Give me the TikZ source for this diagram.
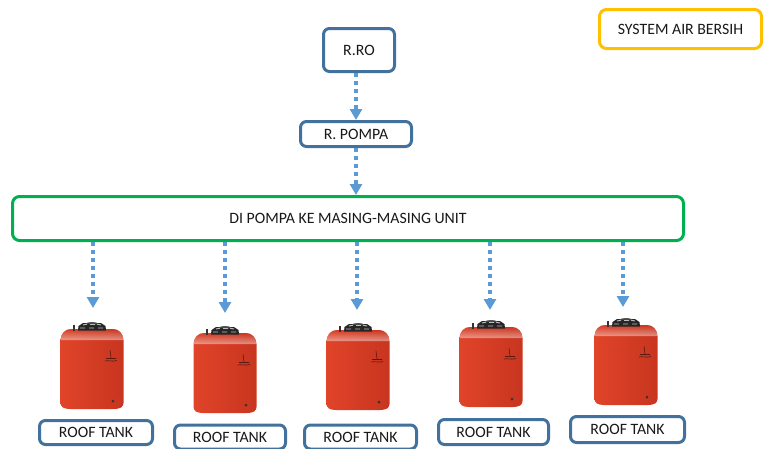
\documentclass[tikz,border=0pt]{standalone}
\usepackage{fontspec}
\setmainfont{Carlito}
\usetikzlibrary{arrows.meta}

\definecolor{boxblue}{HTML}{41719C}
\definecolor{boxgreen}{HTML}{00B050}
\definecolor{boxgold}{HTML}{FFC000}
\definecolor{flowblue}{HTML}{5B9BD5}
\definecolor{tankleft}{HTML}{E04429}
\definecolor{tankmid}{HTML}{F05D40}
\definecolor{tankright}{HTML}{C8351F}
\definecolor{logoink}{HTML}{5A1A10}

\tikzset{
  label/.style={font=\fontsize{15.8}{19}\selectfont, text=black!90, inner sep=0pt},
  bluebox/.style={label, draw=boxblue, line width=3pt, rounded corners=6pt, fill=white},
  greenbox/.style={label, draw=boxgreen, line width=3pt, rounded corners=7pt, fill=white},
  goldbox/.style={label, draw=boxgold, line width=3pt, rounded corners=7pt, fill=white},
  flow/.style={draw=flowblue, line width=3.2pt, dash pattern=on 3.5pt off 4.5pt,
    -{Triangle[width=12pt,length=11pt]}},
  tank/.pic={
    % body with rounded shoulder
    \shade[left color=tankleft, middle color=tankmid, right color=tankright]
      (-31.5,18) .. controls (-31.5,12) and (-27,7) .. (-21,7) -- (21,7)
      .. controls (27,7) and (31.5,12) .. (31.5,18) -- (31.5,81)
      .. controls (31.5,85) and (28,87) .. (22,87) -- (-22,87)
      .. controls (-28,87) and (-31.5,85) .. (-31.5,81) -- cycle;
    % shoulder shadow
    \shade[top color=tankright, bottom color=tankright!0, opacity=0.45]
      (-31.5,18) .. controls (-31.5,12) and (-27,7) .. (-21,7) -- (21,7)
      .. controls (27,7) and (31.5,12) .. (31.5,18) -- cycle;
    % vent pipe
    \fill[black!80] (-19.5,3) rectangle (-17.5,9);
    % lid
    \fill[black!85] (-14,8.5) -- (-13.5,4) -- (-9,1) -- (9,1) -- (13.5,4) -- (14,8.5) -- cycle;
    \fill[black!65] (-6,1.5) .. controls (-5,-0.5) and (5,-0.5) .. (6,1.5) -- cycle;
    \draw[white!75!black, line width=0.9pt] (-9,3) -- (-5,2.2) (-2,2.5) -- (3,2.5) (5,2.2) -- (9,3)
      (-12,6) -- (-7,6) (-3,6) -- (2,6) (6,6) -- (11,6);
    % maker's mark
    \draw[logoink, line width=0.6pt] (18,28) .. controls (20,31) and (17,33) .. (19,36)
      (14,36.5) -- (24,36.5) (13,39) .. controls (16,38) and (21,40) .. (25,38.5);
    % outlet
    \fill[black!80] (21,79) circle (1.5);
  }
}

\begin{document}
\begin{tikzpicture}[x=1pt, y=-1pt]
  \useasboundingbox (0,0) rectangle (764,448);
  \clip (0,0) rectangle (764,448);

  % top chain
  \node[bluebox, minimum width=71pt, minimum height=43pt] (rro) at (359,50) {R.RO};
  \node[bluebox, minimum width=111pt, minimum height=25pt] (rpompa) at (356,134) {R. POMPA};
  \node[greenbox, minimum width=671pt, minimum height=44pt] (unit) at (348,218.5)
    {DI POMPA KE MASING-MASING UNIT};
  \node[goldbox, minimum width=162pt, minimum height=39pt] (title) at (680.5,29)
    {SYSTEM AIR BERSIH};

  \draw[flow] (rro.south -| rpompa.north) -- (rpompa.north);
  \draw[flow] (rpompa.south) -- (unit.north -| rpompa.south);

  % tanks
  \pic at (92,322) {tank};
  \pic at (225,326) {tank};
  \pic at (358,323) {tank};
  \pic at (491,320) {tank};
  \pic at (626,318) {tank};

  % tank labels
  \node[bluebox, minimum width=113pt, minimum height=24pt] (rt1) at (96,432.5) {ROOF TANK};
  \node[bluebox, minimum width=111pt, minimum height=24pt] (rt2) at (230,437) {ROOF TANK};
  \node[bluebox, minimum width=112pt, minimum height=24pt] (rt3) at (360.5,437) {ROOF TANK};
  \node[bluebox, minimum width=110pt, minimum height=25pt] (rt4) at (493.5,432) {ROOF TANK};
  \node[bluebox, minimum width=114pt, minimum height=26pt] (rt5) at (627.5,429.5) {ROOF TANK};

  % feed lines to each tank
  \coordinate (e1) at (93,308);
  \coordinate (e2) at (225,313);
  \coordinate (e3) at (357,310);
  \coordinate (e4) at (490,310);
  \coordinate (e5) at (623,307);
  \foreach \e in {e1,e2,e3,e4,e5}
    \draw[flow] (unit.south -| \e) -- (\e);
\end{tikzpicture}
\end{document}
